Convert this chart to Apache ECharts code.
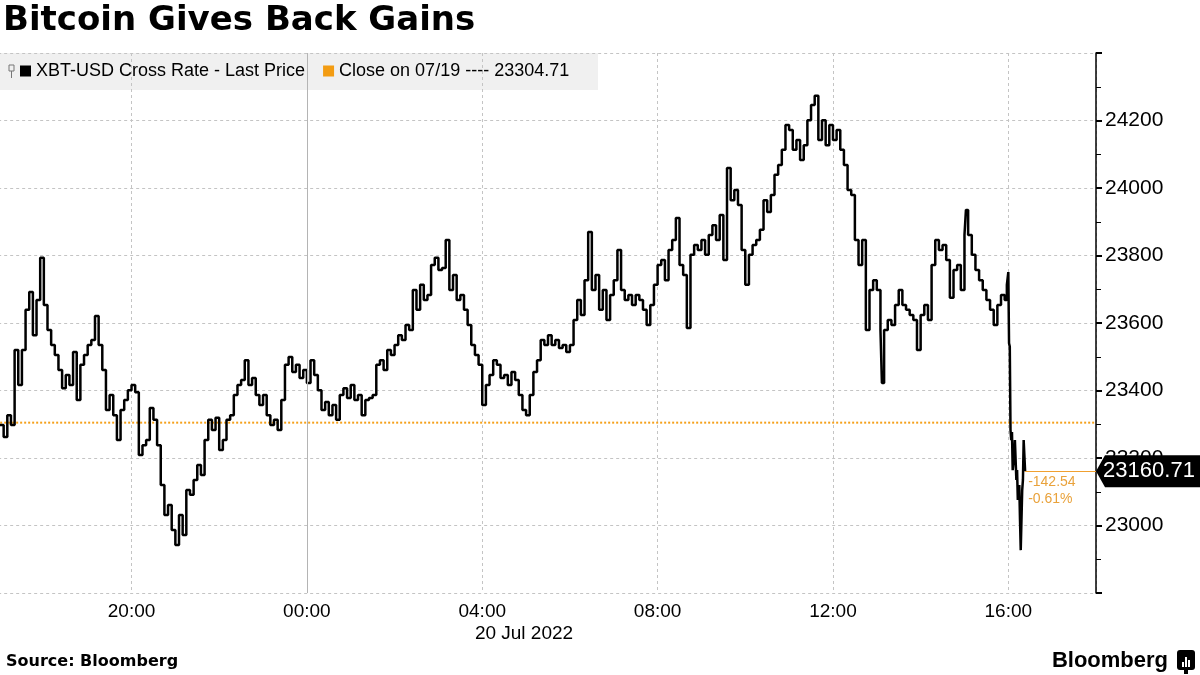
<!DOCTYPE html>
<html><head><meta charset="utf-8">
<script src="https://cdn.jsdelivr.net/npm/echarts@6/dist/echarts.min.js"></script>
<style>html,body{margin:0;padding:0;background:#fff}#c{width:1200px;height:675px}</style>
</head><body><div id="c"></div>
<script>
const titleText = 'Bitcoin Gives Back Gains';
const priceName = 'XBT-USD Cross Rate - Last Price';
const closeName = 'Close on 07/19 ---- 23304.71';
const closeValue = 23304.71;
const lastValue = 23160.71;
const changeLabels = ['-142.54', '-0.61%'];
const dateLabel = '20 Jul 2022';
const sourceLabel = 'Source: Bloomberg';
const brandLabel = 'Bloomberg';

// minutes since 19 Jul 2022 00:00
const times = [
  1020,1025,1030,1035,1040,1045,1050,1055,1060,1065,1070,1075,1080,1085,1090,
  1095,1100,1105,1110,1115,1120,1125,1130,1135,1140,1145,1150,1155,1160,1165,1170,
  1175,1180,1185,1190,1195,1200,1205,1210,1215,1220,1225,1230,1235,1240,1245,1250,1255,1260,
  1265,1270,1275,1280,1285,1290,1295,1300,1305,1310,1315,1320,1325,1330,1335,1340,1345,1350,1355,
  1360,1365,1370,1375,1380,1385,1390,1395,1400,1405,1410,1415,1420,1425,1430,1435,1440,1445,1450,1455,1460,1465,1470,
  1475,1480,1485,1490,1495,1500,1505,1510,1515,1520,1525,1530,1535,1540,1545,1550,1555,1560,1565,1570,1575,1580,1585,1590,1595,1600,1605,1610,1615,1620,1625,1630,
  1635,1640,1645,1650,1655,1660,1665,1670,1675,1680,1685,1690,1695,1700,1705,1710,1715,1720,1725,1730,1735,1740,1745,
  1750,1755,1760,1765,1770,1775,1780,1785,1790,1795,1800,1805,1810,1815,1820,1825,1830,1835,
  1840,1845,1850,1855,1860,1865,1870,1875,1880,1885,1890,1895,1900,1905,1910,1915,1920,1925,1930,1935,1940,1945,1950,
  1955,1960,1965,1970,1975,1980,1985,1990,1995,2000,2005,2010,2015,2020,2025,2030,2035,2040,2045,2050,2055,2060,2065,2070,2075,2080,2085,2090,2095,2100,
  2105,2110,2115,2120,2125,2130,2135,2140,2145,2150,2155,2160,2165,2170,2175,2180,2185,2190,2195,2200,2205,
  2210,2215,2220,2225,2227,2230,2235,2240,2245,2250,2255,2260,2265,2270,2275,2280,2285,2290,2295,2300,2305,2310,2315,2320,2325,2330,2335,2340,2342,2345,2350,2355,2360,2365,2370,2375,2380,2385,2390,2395,2398,
  2400,2401,2402,2403,2404,2405,2406,2408,2409,2411,2412,2413,2415,2416,2417,2419,2420,2421,2423
];
const prices = [
  23298,23262,23327,23298,23520,23416,23520,23639,23692,23564,23668,23793,23653,23579,23535,
  23505,23461,23407,23446,23416,23514,23372,23476,23505,23535,23550,23621,23535,23461,23342,23387,
  23327,23253,23342,23372,23401,23416,23395,23209,23238,23253,23348,23313,23238,23120,23031,23061,22987,22942,
  23031,22972,23105,23091,23135,23179,23150,23253,23313,23283,23319,23224,23253,23313,23327,23387,23416,23431,23490,
  23416,23437,23387,23357,23387,23327,23298,23313,23283,23372,23476,23499,23455,23476,23437,23461,23422,23490,23446,23401,23342,23366,23327,
  23357,23313,23387,23407,23378,23416,23372,23387,23327,23372,23378,23387,23476,23490,23461,23520,23505,23535,23564,23550,23594,23579,23698,23639,23713,23668,23683,23772,23793,23757,23763,23846,
  23698,23742,23668,23683,23639,23594,23535,23505,23476,23357,23416,23446,23490,23476,23437,23446,23416,23455,23431,23387,23342,23327,23387,
  23455,23490,23550,23535,23564,23535,23550,23526,23535,23514,23535,23609,23668,23624,23727,23870,23698,23742,
  23639,23698,23609,23683,23727,23816,23698,23668,23683,23653,23683,23668,23639,23594,23653,23713,23772,23787,23727,23816,23846,23911,23772,
  23742,23585,23802,23831,23816,23846,23802,23861,23890,23846,23920,23787,24059,23964,23994,23950,23816,23713,23802,23831,23846,23876,23964,23929,23979,24039,24068,24113,24187,24172,
  24113,24142,24083,24127,24201,24246,24273,24142,24201,24127,24187,24142,24172,24113,24068,23994,23979,23846,23772,23846,23579,
  23698,23727,23698,23579,23422,23579,23609,23594,23653,23698,23653,23639,23624,23609,23520,23624,23653,23609,23772,23846,23816,23831,23787,23675,23757,23772,23698,23861,23935,23861,23802,23757,23727,23698,23668,23639,23594,23653,23683,23668,23713,
  23751,23540,23530,23283,23253,23277,23164,23209,23253,23135,23164,23076,23120,23016,22927,23105,23135,23253,23160.71
];

const xMin = 960, xMax = 2520, xStep = 240;   // 16:00 on 19 Jul .. 18:00 on 20 Jul
const yMin = 22800, yMax = 24400, yStep = 200;

const FONT = '"Liberation Sans", Arial, sans-serif';
const chart = echarts.init(document.getElementById('c'), null, {renderer: 'canvas'});
const priceData = times.map((t, i) => [t, prices[i]]);
const lastT = times[times.length - 1];
const pad = n => (n < 10 ? '0' : '') + n;

const option = {
  animation: false,
  backgroundColor: '#ffffff',
  textStyle: {fontFamily: FONT},
  title: {
    text: titleText, left: 3, top: 4, padding: 0,
    textStyle: {fontFamily: '"DejaVu Sans", sans-serif', fontWeight: 'bold', fontSize: 34, color: '#000'}
  },
  legend: {
    left: 20, top: 62, padding: 0, itemWidth: 11, itemHeight: 11, itemGap: 18, icon: 'rect',
    textStyle: {fontSize: 18, color: '#000', fontFamily: FONT},
    data: [priceName, closeName]
  },
  grid: {left: -43.84, right: 104, top: 53, bottom: 82, containLabel: false, outerBoundsMode: 'none'},
  xAxis: {
    type: 'value', min: xMin, max: xMax, interval: xStep,
    axisLine: {show: false}, axisTick: {show: false},
    axisLabel: {
      fontSize: 19, color: '#000', margin: 9, fontFamily: FONT, hideOverlap: false,
      formatter: v => ((v - xMin) % xStep !== 0) ? '' : pad(Math.floor(v / 60) % 24) + ':' + pad(v % 60)
    },
    splitLine: {show: true, lineStyle: {color: '#c4c4c4', width: 1, type: [3, 3]}}
  },
  yAxis: {
    type: 'value', position: 'right', min: yMin, max: yMax, interval: yStep,
    axisLine: {show: true, lineStyle: {color: '#000', width: 1.5}},
    axisTick: {show: true, length: 6, lineStyle: {color: '#000', width: 2}},
    minorTick: {show: true, splitNumber: 2, length: 5, lineStyle: {color: '#000', width: 1}},
    axisLabel: {fontSize: 21, color: '#000', margin: 9, showMinLabel: false, showMaxLabel: false, fontFamily: FONT,
                formatter: v => String(v)},
    splitLine: {show: true, lineStyle: {color: '#c4c4c4', width: 1, type: [3, 3]}}
  },
  series: [
    {
      name: priceName, type: 'line', data: priceData, step: 'end',
      symbol: 'none', z: 4,
      lineStyle: {color: '#000', width: 2.5},
      itemStyle: {color: '#000'}
    },
    {
      name: closeName, type: 'line', data: [[xMin, closeValue], [xMax, closeValue]],
      symbol: 'none', clip: false, z: 3,
      lineStyle: {color: '#f5a01a', width: 2, type: 'dotted'},
      itemStyle: {color: '#f39c12'},
      markLine: {
        silent: true, symbol: ['none', 'none'],
        data: [
          {xAxis: 1440, lineStyle: {color: '#b4b4b4', width: 1, type: 'solid'}, label: {show: false}},
          [
            {coord: [lastT, lastValue], lineStyle: {color: '#f0a030', width: 1, type: 'solid'},
             label: {show: true, position: 'insideStartBottom', formatter: changeLabels.join('\n'),
                     color: '#e9a23b', fontSize: 14, lineHeight: 17, distance: [3, 2], fontFamily: FONT}},
            {coord: [xMax, lastValue]}
          ]
        ]
      },
      markPoint: {
        silent: true,
        data: [{coord: [xMax, lastValue], value: lastValue}],
        symbol: 'path://M0,16 L9,0 L110,0 L110,32 L9,32 Z',
        symbolSize: [110, 32], symbolOffset: [55, 0], symbolKeepAspect: false,
        itemStyle: {color: '#000'},
        label: {show: true, position: 'inside', color: '#fff', fontSize: 22, fontFamily: FONT,
                offset: [-2, 0], formatter: () => lastValue.toFixed(2)}
      }
    }
  ],
  graphic: [
    {type: 'rect', z: -10, shape: {x: 0, y: 53, width: 598, height: 37}, style: {fill: '#f0f0f0'}},
    {type: 'rect', z: 10, shape: {x: 9, y: 65, width: 5, height: 6}, style: {fill: 'none', stroke: '#777', lineWidth: 1}},
    {type: 'line', z: 10, shape: {x1: 11.5, y1: 71, x2: 11.5, y2: 78}, style: {stroke: '#777', lineWidth: 1}},
    {type: 'text', z: 10, x: 524, y: 634,
     style: {text: dateLabel, font: '19px "Liberation Sans", Arial, sans-serif', fill: '#000',
             textAlign: 'center', textVerticalAlign: 'middle', align: 'center', verticalAlign: 'middle'}},
    {type: 'text', z: 10, x: 6, y: 662,
     style: {text: sourceLabel, font: 'bold 16px "DejaVu Sans", sans-serif', fill: '#000',
             textAlign: 'left', textVerticalAlign: 'middle', align: 'left', verticalAlign: 'middle'}},
    {type: 'text', z: 10, x: 1168, y: 661,
     style: {text: brandLabel, font: 'bold 22px "Liberation Sans", Arial, sans-serif', fill: '#000',
             textAlign: 'right', textVerticalAlign: 'middle', align: 'right', verticalAlign: 'middle'}},
    {type: 'rect', z: 10, shape: {x: 1177, y: 650, width: 18, height: 20, r: 3}, style: {fill: '#000'}},
    {type: 'rect', z: 11, shape: {x: 1182, y: 662, width: 2, height: 5}, style: {fill: '#fff'}},
    {type: 'rect', z: 11, shape: {x: 1185, y: 657, width: 2, height: 10}, style: {fill: '#fff'}},
    {type: 'rect', z: 11, shape: {x: 1188, y: 660, width: 2, height: 7}, style: {fill: '#fff'}},
    {type: 'rect', z: 10, shape: {x: 1184, y: 670, width: 4, height: 4}, style: {fill: '#000'}}
  ]
};
chart.setOption(option);
</script>
</body></html>
